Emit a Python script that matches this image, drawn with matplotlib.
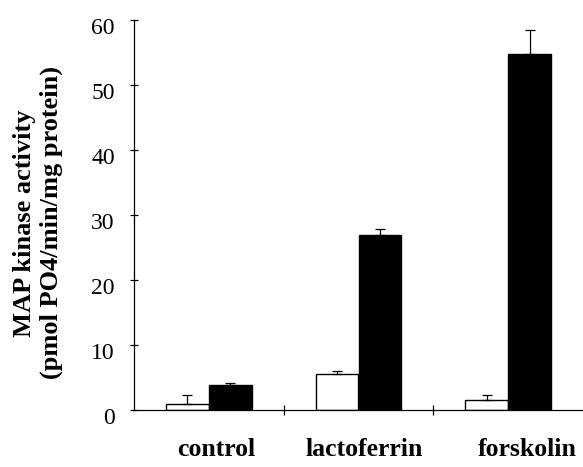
import numpy as np
import matplotlib
matplotlib.use("Agg")
import matplotlib.pyplot as plt
import matplotlib.transforms as mtransforms

# values
groups = ["control", "lactoferrin", "forskolin"]
white_vals = [0.9, 5.5, 1.6]
white_err = [1.4, 0.45, 0.7]
black_vals = [3.9, 26.9, 54.7]
black_err = [0.2, 1.0, 3.8]
yticks = [0, 10, 20, 30, 40, 50, 60]
label_shift = [0.05, 0.04, 0.13]  # category label nudges (group units)

plt.rcParams['font.family'] = ['Liberation Serif', 'DejaVu Serif']

fig = plt.figure(figsize=(5.83, 4.67), dpi=100)
ax = fig.add_axes([134/583, 1 - 410/467, 1 - 134/583, (410 - 20)/467])

x = np.arange(len(groups)) + 0.5
w = 0.287
ax.bar(x - w/2, white_vals, w, color='white', edgecolor='black', lw=1.0)
ax.bar(x + w/2, black_vals, w, color='black', edgecolor='black', lw=1.0)
ax.errorbar(x - w/2, white_vals, yerr=[np.zeros(3), white_err], fmt='none',
            ecolor='black', elinewidth=0.9, capsize=3.6, capthick=0.9)
ax.errorbar(x + w/2, black_vals, yerr=[np.zeros(3), black_err], fmt='none',
            ecolor='black', elinewidth=0.9, capsize=3.6, capthick=0.9)

ax.set_xlim(0, 3)
ax.set_ylim(0, 60)
ax.set_yticks(yticks)
ax.set_xticks([1, 2])
ax.set_xticklabels([])
ax.tick_params(axis='y', direction='inout', length=5.8, width=0.9, labelsize=17, pad=11)
ax.tick_params(axis='x', direction='inout', length=7, width=0.9)
for t in ax.get_yticklabels():
    t.set_transform(t.get_transform() + mtransforms.ScaledTranslation(0, -6/100, fig.dpi_scale_trans))

for s in ['top', 'right']:
    ax.spines[s].set_visible(False)
for s in ['left', 'bottom']:
    ax.spines[s].set_linewidth(0.9)

for xi, g, d in zip(x, groups, label_shift):
    ax.text(xi + d, -7.0, g, ha='center', va='baseline', fontsize=18.5,
            fontweight='bold', transform=ax.transData, clip_on=False)

ax.set_ylabel("MAP kinase activity\n(pmol PO4/min/mg protein)", fontsize=19,
              fontweight='bold', linespacing=1.2, labelpad=20)
ax.yaxis.label.set_y(0.48)

fig.savefig("out.png", dpi=100)
